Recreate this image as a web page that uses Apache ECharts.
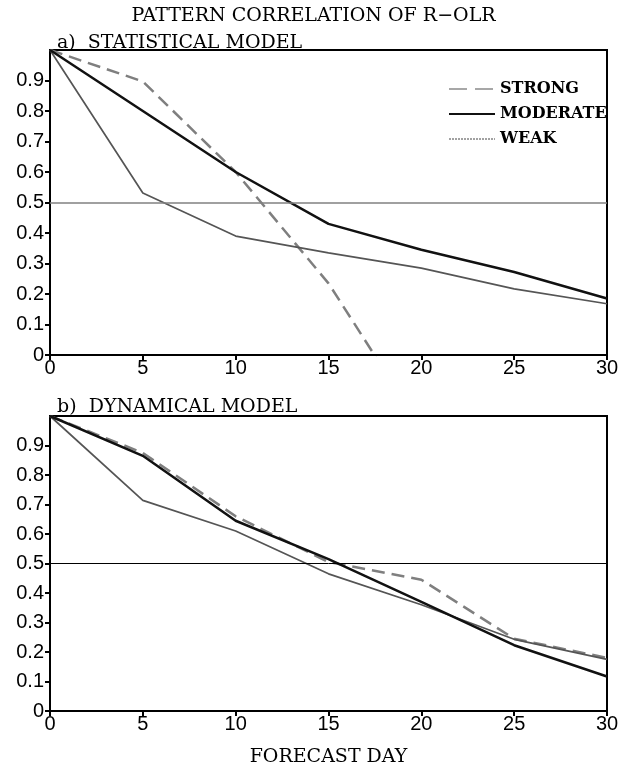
<!DOCTYPE html>
<html>
<head>
<meta charset="utf-8">
<script src="https://cdn.jsdelivr.net/npm/echarts@6/dist/echarts.min.js"></script>
<style>
  html, body { margin: 0; padding: 0; background: #fff; }
  #chart { width: 627px; height: 768px; }
</style>
</head>
<body>
<div id="chart"></div>
<script>
// forecast days
const days = [0, 5, 10, 15, 20, 25, 30];
const yTicks = [0, 0.1, 0.2, 0.3, 0.4, 0.5, 0.6, 0.7, 0.8, 0.9];

// a) statistical model
const statStrong = [1.0, 0.897, 0.6, 0.235, -0.24];
const statModerate = [1.0, 0.8, 0.6, 0.43, 0.345, 0.272, 0.185];
const statWeak = [1.0, 0.531, 0.39, 0.335, 0.285, 0.217, 0.168];

// b) dynamical model
const dynStrong = [1.0, 0.875, 0.66, 0.505, 0.445, 0.245, 0.18];
const dynModerate = [1.0, 0.865, 0.645, 0.515, 0.37, 0.223, 0.117];
const dynWeak = [1.0, 0.714, 0.61, 0.465, 0.36, 0.243, 0.175];

const serif = 'DejaVu Serif';
const sans = '"Liberation Sans Narrow", "Liberation Sans", sans-serif';

const pair = (vals) => vals.map((v, i) => [days[i], v]);

const chart = echarts.init(document.getElementById('chart'));

const xAxisBase = (gridIndex, extra) => Object.assign({
  type: 'value',
  gridIndex,
  min: 0,
  max: 30,
  interval: 5,
  axisLine: { show: true, lineStyle: { color: '#000', width: 2 } },
  axisTick: { show: true, inside: false, length: 5, lineStyle: { color: '#000', width: 2 } },
  axisLabel: { color: '#000', fontFamily: sans, fontSize: 20, margin: 3 },
  splitLine: { show: false }
}, extra);

const yAxisBase = (gridIndex) => ({
  type: 'value',
  gridIndex,
  min: 0,
  max: 1,
  interval: 0.1,
  axisLine: { show: true, lineStyle: { color: '#000', width: 2 } },
  axisTick: { show: true, length: 5, customValues: yTicks, lineStyle: { color: '#000', width: 2 } },
  axisLabel: {
    color: '#000', fontFamily: sans, fontSize: 20, margin: 6,
    customValues: yTicks,
    formatter: (v) => (v === 0 ? '0' : v.toFixed(1))
  },
  splitLine: { show: false }
});

const styles = {
  STRONG: { color: '#7f7f7f', width: 2.5, type: [13, 7] },
  MODERATE: { color: '#111', width: 2.5, type: 'solid' },
  WEAK: { color: '#555', width: 1.7, type: 'solid' }
};

const mk = (name, vals, idx) => ({
  name,
  type: 'line',
  xAxisIndex: idx,
  yAxisIndex: idx,
  data: pair(vals),
  showSymbol: false,
  symbol: 'none',
  symbolSize: 0,
  clip: true,
  lineStyle: styles[name],
  itemStyle: { color: styles[name].color },
  z: name === 'MODERATE' ? 4 : 3
});

const refLine = (idx, color, width) => ({
  type: 'line',
  xAxisIndex: idx,
  yAxisIndex: idx,
  data: [],
  silent: true,
  markLine: {
    silent: true,
    symbol: 'none',
    label: { show: false },
    lineStyle: { color, width, type: 'solid' },
    data: [{ yAxis: 0.5 }]
  }
});

const titleStyle = { fontFamily: serif, fontSize: 19, fontWeight: 'normal', color: '#000' };

const option = {
  animation: false,
  backgroundColor: '#fff',
  title: [
    { text: 'PATTERN CORRELATION OF R\u2212OLR', left: 'center', top: 2, textStyle: titleStyle },
    { text: 'a)  STATISTICAL MODEL', left: 52, top: 29, textStyle: titleStyle },
    { text: 'b)  DYNAMICAL MODEL', left: 52, top: 393, textStyle: titleStyle }
  ],
  legend: {
    data: [
      { name: 'STRONG', lineStyle: { color: '#8a8a8a', width: 1.5, type: [18, 8] } },
      { name: 'MODERATE', lineStyle: { color: '#111', width: 2, type: 'solid' } },
      { name: 'WEAK', lineStyle: { color: '#444', width: 1, type: [2, 1] } }
    ],
    orient: 'vertical',
    left: 443,
    top: 76,
    itemWidth: 46,
    itemHeight: 14,
    itemGap: 9,
    itemStyle: { opacity: 0 },
    textStyle: { fontFamily: serif, fontSize: 16, fontWeight: 'bold', color: '#000' }
  },
  grid: [
    { left: 50, right: 20, top: 50, height: 305, show: true, borderColor: '#000', borderWidth: 2 },
    { left: 50, right: 20, top: 416, height: 304, show: true, borderColor: '#000', borderWidth: 2 }
  ],
  xAxis: [
    xAxisBase(0),
    xAxisBase(1, {
      name: 'FORECAST DAY',
      nameLocation: 'middle',
      nameGap: 37,
      nameTextStyle: { fontFamily: serif, fontSize: 19, color: '#000' }
    })
  ],
  yAxis: [yAxisBase(0), yAxisBase(1)],
  series: [
    refLine(0, '#808080', 1.5),
    refLine(1, '#000', 1),
    mk('STRONG', statStrong, 0),
    mk('MODERATE', statModerate, 0),
    mk('WEAK', statWeak, 0),
    mk('STRONG', dynStrong, 1),
    mk('MODERATE', dynModerate, 1),
    mk('WEAK', dynWeak, 1)
  ]
};

chart.setOption(option);
</script>
</body>
</html>
